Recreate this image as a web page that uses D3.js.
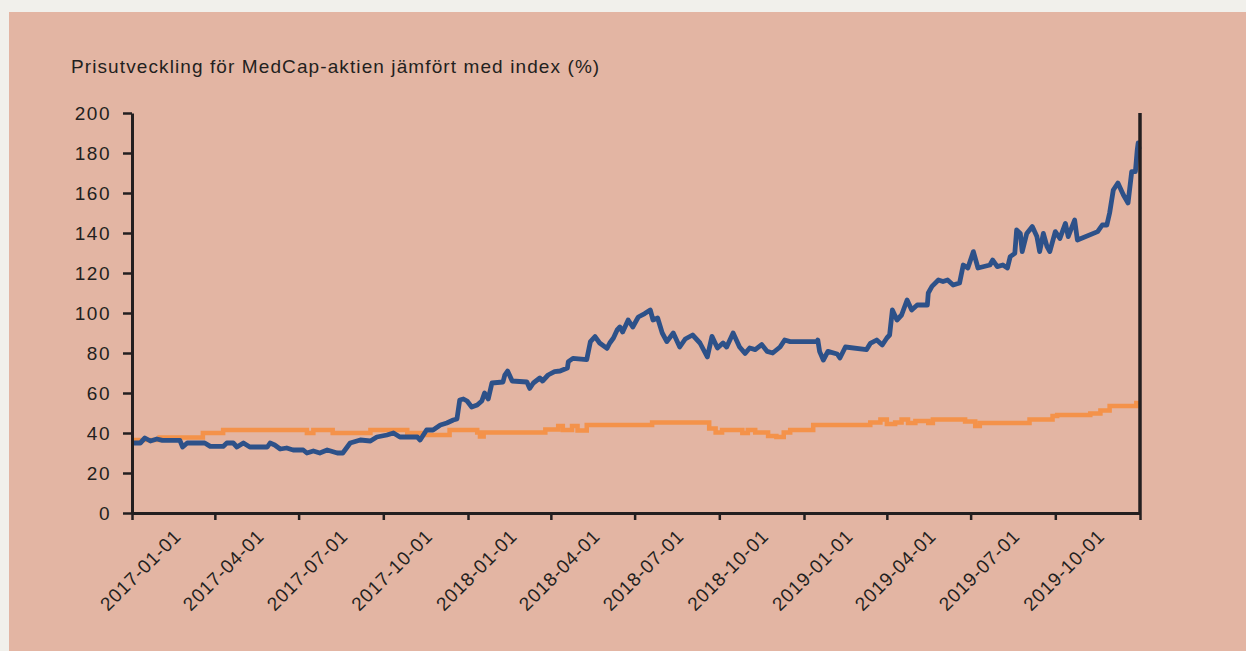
<!DOCTYPE html>
<html>
<head>
<meta charset="utf-8">
<script src="https://cdn.jsdelivr.net/npm/d3@7"></script>
<style>
  body { margin: 0; background: #f1f0eb; }
  svg { display: block; font-family: "Liberation Sans", Arial, sans-serif; }
</style>
</head>
<body>
<div id="chart"></div>
<script>
const title = 'Prisutveckling för MedCap-aktien jämfört med index (%)';
const yTicks = [0, 20, 40, 60, 80, 100, 120, 140, 160, 180, 200];
const xStart = '2017-01-01';
const xEnd = '2020-01-01';

// MedCap-aktien
const medcap = [
  ['2017-01-01', 35], ['2017-01-10', 35], ['2017-01-15', 37.5], ['2017-01-21', 36], ['2017-01-28', 37],
  ['2017-02-03', 36.3], ['2017-02-22', 36.3], ['2017-02-25', 33], ['2017-03-02', 35], ['2017-03-21', 35],
  ['2017-03-27', 33.3], ['2017-04-10', 33.3], ['2017-04-14', 35], ['2017-04-21', 35], ['2017-04-25', 33],
  ['2017-05-02', 35], ['2017-05-09', 33], ['2017-05-28', 33], ['2017-05-31', 35], ['2017-06-05', 34],
  ['2017-06-11', 32], ['2017-06-18', 32.5], ['2017-06-25', 31.5], ['2017-07-06', 31.5], ['2017-07-10', 30],
  ['2017-07-17', 31], ['2017-07-24', 30], ['2017-08-01', 31.5], ['2017-08-12', 30], ['2017-08-18', 30],
  ['2017-08-26', 35], ['2017-09-06', 36.5], ['2017-09-17', 36], ['2017-09-24', 38], ['2017-10-05', 39],
  ['2017-10-12', 40], ['2017-10-19', 38], ['2017-11-07', 38], ['2017-11-10', 36.5], ['2017-11-17', 41.5],
  ['2017-11-24', 41.5], ['2017-12-02', 44], ['2017-12-09', 45], ['2017-12-16', 46.5], ['2017-12-20', 47],
  ['2017-12-23', 56.5], ['2017-12-27', 57], ['2017-12-31', 56], ['2018-01-05', 53], ['2018-01-11', 54],
  ['2018-01-16', 56], ['2018-01-19', 60], ['2018-01-23', 57], ['2018-01-27', 65], ['2018-02-08', 65.5],
  ['2018-02-10', 69], ['2018-02-13', 71], ['2018-02-18', 66], ['2018-03-06', 65.5], ['2018-03-09', 62.3],
  ['2018-03-13', 65], ['2018-03-20', 67.5], ['2018-03-23', 66], ['2018-03-29', 69], ['2018-04-05', 70.7],
  ['2018-04-11', 71], ['2018-04-19', 72.5], ['2018-04-20', 75.7], ['2018-04-25', 77.3], ['2018-05-10', 76.7],
  ['2018-05-14', 85.7], ['2018-05-19', 88.2], ['2018-05-24', 85], ['2018-06-01', 82.3], ['2018-06-04', 85],
  ['2018-06-08', 87.5], ['2018-06-12', 91.5], ['2018-06-15', 93], ['2018-06-18', 90.5], ['2018-06-24', 96.5],
  ['2018-06-29', 93], ['2018-07-05', 98], ['2018-07-12', 99.7], ['2018-07-18', 101.5], ['2018-07-21', 96.5],
  ['2018-07-26', 97.5], ['2018-07-31', 90], ['2018-08-05', 85.7], ['2018-08-12', 90], ['2018-08-19', 83],
  ['2018-08-25', 87], ['2018-09-02', 89], ['2018-09-10', 85], ['2018-09-18', 78], ['2018-09-23', 88.3],
  ['2018-09-29', 82.5], ['2018-10-05', 85], ['2018-10-09', 83], ['2018-10-16', 90], ['2018-10-23', 83],
  ['2018-10-29', 79.8], ['2018-11-03', 82.5], ['2018-11-09', 81.7], ['2018-11-16', 84.2], ['2018-11-22', 80.8],
  ['2018-11-28', 80], ['2018-12-06', 83], ['2018-12-11', 86.5], ['2018-12-17', 85.7], ['2019-01-15', 85.7],
  ['2019-01-16', 86.5], ['2019-01-18', 80.7], ['2019-01-22', 76.5], ['2019-01-27', 80.8], ['2019-02-06', 79.5],
  ['2019-02-09', 77.5], ['2019-02-15', 83], ['2019-03-10', 81.7], ['2019-03-14', 84.8], ['2019-03-21', 86.5],
  ['2019-03-27', 84], ['2019-04-01', 87.5], ['2019-04-04', 89], ['2019-04-07', 101.5], ['2019-04-12', 96.5],
  ['2019-04-17', 99], ['2019-04-23', 106.5], ['2019-04-28', 101.5], ['2019-05-04', 104], ['2019-05-15', 104],
  ['2019-05-16', 110], ['2019-05-20', 113.3], ['2019-05-27', 116.5], ['2019-06-01', 115.7], ['2019-06-06', 116.5],
  ['2019-06-12', 114], ['2019-06-19', 115], ['2019-06-23', 124], ['2019-06-28', 122.5], ['2019-07-04', 130.7],
  ['2019-07-09', 122.5], ['2019-07-22', 124], ['2019-07-25', 126.5], ['2019-07-30', 123.2], ['2019-08-05', 124],
  ['2019-08-10', 122.5], ['2019-08-13', 128.2], ['2019-08-18', 129.8], ['2019-08-20', 141.5], ['2019-08-24', 139.8],
  ['2019-08-26', 130.7], ['2019-08-31', 139.8], ['2019-09-06', 143.2], ['2019-09-11', 138.2], ['2019-09-14', 130.7],
  ['2019-09-18', 139.8], ['2019-09-22', 133.2], ['2019-09-25', 130.7], ['2019-10-01', 140.7], ['2019-10-06', 137.3],
  ['2019-10-12', 144.8], ['2019-10-15', 138.2], ['2019-10-22', 146.5], ['2019-10-25', 136.5], ['2019-11-16', 140.7],
  ['2019-11-21', 144], ['2019-11-26', 144], ['2019-11-29', 150], ['2019-12-03', 161.5], ['2019-12-08', 165],
  ['2019-12-14', 159], ['2019-12-19', 155], ['2019-12-23', 170.7], ['2019-12-27', 170.7], ['2019-12-29', 181.5],
  ['2019-12-30', 185], ['2019-12-31', 182]
];

// Index
const indexSeries = [
  ['2017-01-01', 36.5], ['2017-01-31', 37.8], ['2017-03-19', 40], ['2017-04-10', 41.5], ['2017-07-10', 40],
  ['2017-07-17', 41.5], ['2017-08-07', 40], ['2017-09-17', 41.5], ['2017-10-27', 40], ['2017-11-13', 39],
  ['2017-12-12', 41.5], ['2018-01-11', 40.2], ['2018-01-14', 38.2], ['2018-01-18', 40.2], ['2018-03-26', 41.8],
  ['2018-04-09', 43.5], ['2018-04-14', 41.5], ['2018-04-24', 43.5], ['2018-04-30', 41.2], ['2018-05-10', 44],
  ['2018-07-20', 45.3], ['2018-09-20', 42.3], ['2018-09-27', 40.2], ['2018-10-04', 41.5], ['2018-10-26', 40],
  ['2018-11-01', 41.5], ['2018-11-09', 40.2], ['2018-11-23', 38.5], ['2018-12-02', 38], ['2018-12-10', 40.2],
  ['2018-12-17', 41.5], ['2019-01-11', 44], ['2019-03-14', 45.2], ['2019-03-25', 46.8], ['2019-04-01', 44.5],
  ['2019-04-10', 45.2], ['2019-04-17', 46.8], ['2019-04-24', 45], ['2019-05-02', 46], ['2019-05-16', 45],
  ['2019-05-21', 46.8], ['2019-06-25', 45.7], ['2019-07-06', 43.5], ['2019-07-11', 45], ['2019-09-03', 46.8],
  ['2019-09-28', 48.5], ['2019-10-03', 49], ['2019-11-08', 49.8], ['2019-11-19', 51.2], ['2019-11-29', 53.5],
  ['2019-12-28', 55], ['2019-12-31', 55]
];

const W = 1246, H = 651;
const ink = '#231f20';
const font = '"Liberation Sans", Arial, sans-serif';
const parse = d3.timeParse('%Y-%m-%d');
const fmt = d3.timeFormat('%Y-%m-%d');

const svg = d3.select('#chart').append('svg').attr('width', W).attr('height', H);

svg.append('rect')
  .attr('x', 9).attr('y', 12)
  .attr('width', W - 9).attr('height', H - 12)
  .attr('fill', '#e3b5a3');

svg.append('text')
  .attr('x', 71).attr('y', 73)
  .attr('fill', ink)
  .style('font-size', '19px')
  .style('letter-spacing', '1.1px')
  .text(title);

const x = d3.scaleTime().domain([parse(xStart), parse(xEnd)]).range([132, 1140]);
const y = d3.scaleLinear().domain([0, 200]).range([513, 113]);

const line = d3.line()
  .x((d) => x(parse(d[0])))
  .y((d) => y(d[1]));

svg.append('path')
  .datum(indexSeries)
  .attr('d', line.curve(d3.curveStepAfter))
  .attr('fill', 'none')
  .attr('stroke', '#f4924a')
  .attr('stroke-width', 4.5);

svg.append('path')
  .datum(medcap)
  .attr('d', line.curve(d3.curveLinear))
  .attr('fill', 'none')
  .attr('stroke', '#2d5189')
  .attr('stroke-width', 4.8)
  .attr('stroke-linejoin', 'round');

// y axis
const yAxis = svg.append('g')
  .attr('transform', 'translate(132,0)')
  .call(d3.axisLeft(y).tickValues(yTicks).tickSize(9).tickSizeOuter(0).tickPadding(12));
yAxis.select('.domain').attr('stroke', ink).attr('stroke-width', 3);
yAxis.selectAll('.tick line').attr('stroke', ink).attr('stroke-width', 2.5);
yAxis.selectAll('.tick text')
  .attr('fill', ink)
  .style('font-size', '19px')
  .style('letter-spacing', '1.5px')
  .style('font-family', font);

// x axis
const endDate = parse(xEnd);
const xAxis = svg.append('g')
  .attr('transform', 'translate(0,513)')
  .call(d3.axisBottom(x).ticks(d3.timeMonth.every(3)).tickSize(7).tickSizeOuter(0)
    .tickFormat((d) => (d < endDate ? fmt(d) : '')));
xAxis.select('.domain').attr('stroke', ink).attr('stroke-width', 3);
xAxis.selectAll('.tick line').attr('stroke', ink).attr('stroke-width', 2.5);
xAxis.selectAll('.tick text')
  .attr('fill', ink)
  .attr('text-anchor', 'middle')
  .attr('dy', '0.35em')
  .attr('y', 0)
  .attr('transform', 'translate(8,57) rotate(-45)')
  .style('font-size', '19px')
  .style('letter-spacing', '0.8px')
  .style('font-family', font);

// right frame line
svg.append('line')
  .attr('x1', 1140).attr('x2', 1140)
  .attr('y1', 113).attr('y2', 513)
  .attr('stroke', ink)
  .attr('stroke-width', 3.5);
</script>
</body>
</html>
